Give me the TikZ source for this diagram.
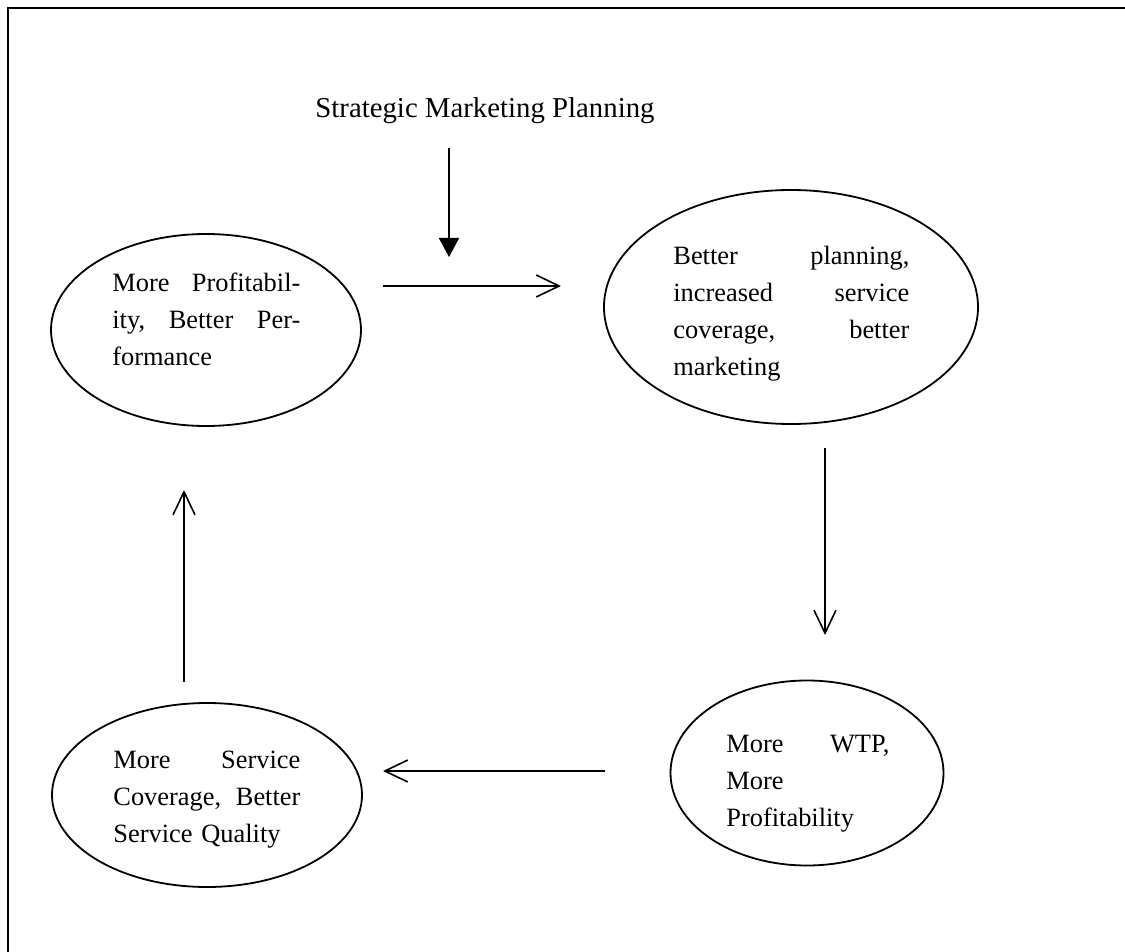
\documentclass[tikz,border=0pt]{standalone}
\usepackage{fontspec}
\setmainfont{Liberation Serif}
\usepackage{tikz}
\usetikzlibrary{shapes.geometric, arrows.meta}

\tikzset{
  bubble/.style = {draw, ellipse, line width=0.9pt, inner sep=0pt},
  blurb/.style = {inner sep=0pt, align=left, anchor=base west,
    font=\fontsize{13.2}{18.5}\selectfont},
  flow/.style = {line width=0.8pt, -{Straight Barb[length=11.5pt, width=11pt, line width=0.8pt]}},
  feed/.style = {line width=0.8pt, -{Triangle[length=9.5pt, width=10pt]}}
}

\begin{document}
\begin{tikzpicture}[x=0.5pt, y=-0.5pt]
\useasboundingbox (0,0) rectangle (1125,952);
\draw[line width=0.7pt] (8,8) rectangle (1140,970);

\node[blurb, font=\fontsize{14.4}{18.5}\selectfont] (smp) at (315,118) {Strategic Marketing Planning};

\node[bubble, minimum width=155pt, minimum height=96pt] (perf) at (206,330) {};
\node[bubble, minimum width=187pt, minimum height=117pt] (plan) at (791,307) {};
\node[bubble, minimum width=136.5pt, minimum height=92.5pt] (wtp) at (807,773) {};
\node[bubble, minimum width=155pt, minimum height=92pt] (qual) at (207,795) {};

\node[blurb, text width=94pt] (perf text) at (112,292)
  {More\hfill Profitabil-\\ity,\hfill Better\hfill Per-\\formance};
\node[blurb, text width=118pt] (plan text) at (673,265)
  {Better\hfill planning,\\increased\hfill service\\coverage,\hfill better\\marketing};
\node[blurb, text width=81.5pt] (wtp text) at (726,752)
  {More\hfill WTP,\\More\\Profitability};
\node[blurb, text width=93.5pt] (qual text) at (113,768)
  {More\hfill Service\\Coverage,\hfill Better\\Service Quality};

\coordinate (smp out) at (449,148);
\coordinate (smp in) at (449,257);
\coordinate (top a) at (383,286);
\coordinate (top b) at (561,286);
\coordinate (right a) at (825,448);
\coordinate (right b) at (825,635);
\coordinate (low a) at (605,771);
\coordinate (low b) at (383,771);
\coordinate (left a) at (184,682);
\coordinate (left b) at (184,490);

\draw[feed] (smp out) -- (smp in);
\draw[flow] (top a) -- (top b);
\draw[flow] (right a) -- (right b);
\draw[flow] (low a) -- (low b);
\draw[flow] (left a) -- (left b);
\end{tikzpicture}
\end{document}
